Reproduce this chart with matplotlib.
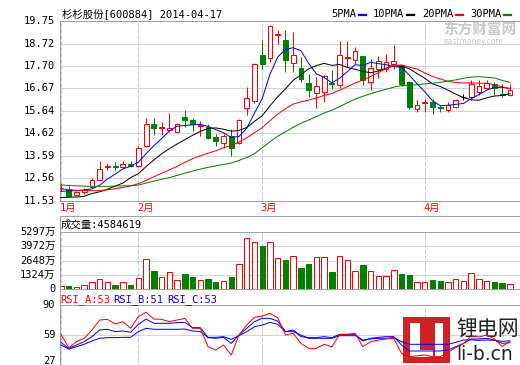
import matplotlib
matplotlib.use("Agg")
import matplotlib.pyplot as plt
from matplotlib.patches import Rectangle
from matplotlib.lines import Line2D
from matplotlib.transforms import blended_transform_factory

plt.rcParams['font.family'] = ['DejaVu Sans Mono', 'Noto Sans CJK SC']

# ------------------ DATA ------------------

stock_title = "杉杉股份[600884] 2014-04-17"
months = ['1月', '2月', '3月', '4月']
month_start = [0, 10, 26, 47]

opens = [12.10, 12.08, 11.80, 11.90, 12.13, 12.47, 13.08, 13.12, 13.05, 13.22,
         13.10, 14.02, 15.05, 14.84, 14.78, 14.69, 15.38, 15.24, 14.96, 14.92,
         14.43, 14.16, 14.51, 14.16, 15.78, 16.09, 18.19, 18.08, 19.12, 18.91,
         17.83, 17.62, 16.91, 16.45, 16.50, 16.92, 16.81, 18.08, 17.96, 18.14,
         16.96, 17.54, 17.57, 17.80, 17.73, 16.96, 15.74, 16.02, 16.04, 15.80,
         15.69, 15.81, 16.27, 16.27, 16.50, 16.70, 16.89, 16.40, 16.35]
highs = [12.33, 12.21, 11.97, 12.10, 12.55, 13.34, 13.24, 13.30, 13.34, 13.34,
         14.02, 15.30, 15.30, 15.12, 15.55, 15.10, 15.66, 15.30, 15.18, 15.05,
         14.59, 14.59, 14.82, 15.28, 16.73, 17.83, 18.88, 19.57, 19.37, 19.34,
         19.28, 18.11, 17.35, 17.19, 17.27, 17.50, 18.83, 18.83, 18.57, 18.14,
         18.03, 18.14, 18.26, 18.65, 17.75, 16.99, 16.12, 16.20, 16.20, 15.89,
         16.04, 16.20, 16.43, 17.04, 17.04, 17.04, 16.96, 16.89, 16.89]
lows = [11.98, 11.72, 11.78, 11.85, 12.10, 12.45, 12.95, 12.92, 12.98, 13.05,
        13.05, 14.00, 14.54, 14.55, 14.69, 14.65, 14.92, 14.71, 14.51, 14.36,
        14.05, 13.94, 13.59, 14.10, 15.43, 15.99, 17.58, 17.88, 18.69, 17.42,
        17.42, 16.96, 16.27, 15.78, 16.04, 16.66, 16.68, 17.65, 17.80, 16.81,
        16.61, 17.16, 17.42, 17.55, 16.78, 15.74, 15.58, 15.58, 15.51, 15.58,
        15.58, 15.78, 16.12, 16.12, 16.35, 16.66, 16.35, 16.27, 16.32]
closes = [12.12, 11.75, 11.93, 12.02, 12.49, 12.98, 13.12, 13.08, 13.21, 13.10,
          13.96, 15.05, 14.86, 14.88, 14.84, 15.05, 15.20, 15.03, 14.98, 14.40,
          14.28, 14.51, 13.92, 15.23, 16.24, 17.80, 17.80, 19.52, 19.18, 17.99,
          18.19, 17.12, 16.62, 16.76, 17.22, 16.86, 18.22, 18.13, 18.37, 17.04,
          17.60, 17.91, 17.88, 17.92, 16.89, 15.81, 15.92, 16.06, 15.81, 15.78,
          15.92, 16.12, 16.27, 16.89, 16.76, 16.91, 16.70, 16.36, 16.61]

# volume in 万 shares
volume = [331, 303, 239, 368, 644, 975, 644, 395, 644, 395,
          1012, 2759, 1683, 1104, 1591, 855, 1407, 1159, 855, 947,
          699, 763, 1159, 2327, 4690, 4322, 3982, 4322, 2851, 2694,
          3062, 1959, 2327, 2943, 2943, 1618, 3062, 2667, 1683, 2235,
          1683, 1195, 1195, 1747, 1407, 1315, 671, 671, 855, 763,
          671, 920, 763, 1471, 920, 763, 671, 579, 458.4619]

ma5 = [11.95, 11.97, 11.98, 12.02, 12.06, 12.23, 12.51, 12.74, 12.98, 13.10,
       13.29, 13.68, 14.04, 14.37, 14.72, 14.94, 14.97, 15.00, 15.02, 14.93,
       14.78, 14.64, 14.42, 14.47, 14.84, 15.54, 16.20, 17.32, 18.11, 18.46,
       18.54, 18.40, 17.82, 17.34, 17.18, 16.92, 17.14, 17.44, 17.76, 17.72,
       17.87, 17.81, 17.76, 17.67, 17.64, 17.28, 16.88, 16.52, 16.10, 15.88,
       15.90, 15.94, 15.98, 16.20, 16.39, 16.59, 16.71, 16.72, 16.67]
ma10 = [11.67, 11.68, 11.69, 11.72, 11.85, 11.93, 12.05, 12.19, 12.33, 12.58,
        12.76, 13.09, 13.39, 13.67, 13.91, 14.12, 14.32, 14.52, 14.70, 14.83,
        14.86, 14.80, 14.71, 14.74, 14.88, 15.16, 15.42, 15.87, 16.29, 16.65,
        17.04, 17.30, 17.57, 17.72, 17.82, 17.73, 17.77, 17.63, 17.55, 17.45,
        17.39, 17.47, 17.60, 17.72, 17.68, 17.58, 17.35, 17.14, 16.88, 16.76,
        16.59, 16.41, 16.25, 16.15, 16.13, 16.24, 16.32, 16.35, 16.43]
ma20 = [12.06, 12.03, 12.00, 11.99, 11.98, 11.98, 12.02, 12.07, 12.13, 12.20,
        12.30, 12.45, 12.62, 12.78, 12.93, 13.10, 13.28, 13.45, 13.58, 13.70,
        13.81, 13.95, 14.05, 14.21, 14.40, 14.64, 14.87, 15.19, 15.49, 15.74,
        15.95, 16.05, 16.14, 16.23, 16.35, 16.44, 16.59, 16.75, 16.92, 17.05,
        17.22, 17.39, 17.58, 17.72, 17.75, 17.65, 17.56, 17.38, 17.22, 17.11,
        16.99, 16.94, 16.92, 16.93, 16.91, 16.91, 16.83, 16.75, 16.66]
ma30 = [12.24, 12.22, 12.20, 12.19, 12.18, 12.18, 12.18, 12.19, 12.20, 12.21,
        12.24, 12.33, 12.42, 12.50, 12.58, 12.68, 12.78, 12.88, 12.97, 13.05,
        13.12, 13.18, 13.25, 13.37, 13.50, 13.68, 13.95, 14.22, 14.48, 14.68,
        14.89, 15.07, 15.22, 15.38, 15.54, 15.67, 15.84, 16.01, 16.18, 16.31,
        16.43, 16.53, 16.63, 16.73, 16.80, 16.82, 16.84, 16.88, 16.91, 16.95,
        17.01, 17.06, 17.14, 17.19, 17.21, 17.18, 17.15, 17.04, 16.95]

rsi_a = [59.7, 45.9, 52.1, 55.6, 64.2, 74.5, 75.2, 70.4, 72.8, 65.9,
         77.9, 82.4, 75.5, 75.2, 72.8, 74.5, 76.2, 65.9, 65.9, 46.9,
         43.5, 48.7, 38.3, 59.0, 69.3, 77.3, 78.6, 81.4, 76.9, 59.0,
         60.8, 50.4, 45.2, 45.2, 49.4, 46.9, 59.7, 59.7, 60.8, 46.9,
         52.1, 53.8, 54.9, 55.6, 40.1, 36.6, 37.6, 38.3, 36.6, 36.6,
         41.0, 46.0, 50.0, 58.0, 57.0, 59.0, 55.0, 47.0, 53.0]
rsi_b = [51.4, 45.2, 48.7, 52.1, 57.3, 64.2, 64.9, 62.5, 63.2, 61.8,
         70.0, 75.5, 71.1, 71.1, 71.1, 71.8, 72.1, 66.6, 66.6, 56.3,
         55.6, 56.6, 50.4, 59.0, 65.9, 72.8, 76.2, 76.2, 73.4, 62.5,
         64.2, 57.3, 56.3, 56.3, 57.3, 56.3, 59.7, 59.7, 59.7, 52.8,
         55.6, 56.6, 57.3, 57.3, 48.7, 42.5, 42.5, 42.5, 42.5, 42.5,
         43.5, 46.9, 50.4, 54.9, 54.9, 55.6, 53.8, 50.4, 51.0]
rsi_c = [48.7, 44.5, 46.9, 49.4, 52.8, 55.6, 56.3, 56.3, 56.6, 56.6,
         62.5, 65.9, 64.9, 64.9, 64.9, 64.9, 65.2, 63.2, 62.5, 56.6,
         56.6, 57.3, 54.5, 58.3, 62.5, 67.6, 69.3, 72.1, 70.0, 62.5,
         62.5, 59.0, 55.6, 55.6, 55.6, 55.6, 58.3, 58.3, 58.3, 53.8,
         54.9, 55.6, 55.6, 56.3, 52.1, 49.4, 49.4, 49.4, 49.4, 49.4,
         49.4, 51.4, 53.8, 54.0, 53.5, 53.8, 53.5, 52.5, 53.0]

price_ticks = [19.75, 18.72, 17.70, 16.67, 15.64, 14.62, 13.59, 12.56, 11.53]
vol_ticks = [0, 1324, 2648, 3972, 5297]
rsi_ticks = [27, 59, 90]

ma_names = ['5PMA', '10PMA', '20PMA', '30PMA']
ma_colors = ['#0000FF', '#000000', '#FF0000', '#008000']

# ------------------ LAYOUT HELPERS ------------------

W, H = 520, 365
fig = plt.figure(figsize=(W / 100, H / 100), dpi=100)

BORDER = '#A0A0A0'
GRID = '#D4D4D4'
DASH = '#C4C4C4'
RED = '#FF0000'
GREEN = '#008000'
PX = 0.72          # one pixel in points
FS = 7.5

n = len(closes)
xs = list(range(n))
XLIM = (-0.19, 59.24)


def px_axes(l, t, r, b):
    return fig.add_axes([l / W, 1 - b / H, (r - l) / W, (b - t) / H])


def fy(y):
    return 1 - y / H


def frame(ax):
    ax.set_xlim(*XLIM)
    ax.set_xticks([])
    ax.set_yticks([])
    for s in ax.spines.values():
        s.set_color(BORDER)
        s.set_linewidth(PX)


def month_lines(ax):
    for m in month_start:
        ax.axvline(m, color=DASH, lw=PX, ls=(0, (4, 2)), zorder=1)


def candle_color(i):
    if closes[i] > opens[i]:
        return RED
    if closes[i] < opens[i]:
        return GREEN
    return 'black'

# ------------------ PRICE PANEL ------------------

ax = px_axes(59.5, 21.3, 519.5, 200.5)
frame(ax)
ax.set_ylim(price_ticks[-1], price_ticks[0])
for v in price_ticks[1:-1]:
    ax.axhline(v, color=GRID, lw=PX, zorder=0)
month_lines(ax)

for i in xs:
    col = candle_color(i)
    top, bot = max(opens[i], closes[i]), min(opens[i], closes[i])
    face = 'white' if col == RED else col
    ax.vlines(i, top, highs[i], color=col, lw=PX, zorder=2)
    ax.vlines(i, lows[i], bot, color=col, lw=PX, zorder=2)
    ax.bar(i, max(top - bot, 0.004), bottom=bot, width=0.62,
           facecolor=face, edgecolor=col, lw=PX, zorder=3)

for ma, col in zip([ma5, ma10, ma20, ma30], ma_colors):
    ax.plot(xs, ma, color=col, lw=PX, zorder=4)

ytr = ax.get_yaxis_transform()
for v in price_ticks:
    ax.text(-0.009, v, f"{v:.2f}", transform=ytr, ha='right', va='center',
            fontsize=FS, clip_on=False)

mtr = blended_transform_factory(ax.transData, ax.transAxes)
for m, name in zip(month_start, months):
    ax.text(m - 0.2, -0.042, name, transform=mtr, ha='left', va='center',
            color=RED, fontsize=FS, clip_on=False)

# title and legend
fig.text(62 / W, fy(14), stock_title, ha='left', va='center', fontsize=FS)
leg_x = [331, 373, 422, 470]
for name, col, x0 in zip(ma_names, ma_colors, leg_x):
    fig.text(x0 / W, fy(14), name, ha='left', va='center', fontsize=FS)
    d0 = x0 + len(name) * 6 + 4
    fig.add_artist(Line2D([d0 / W, (d0 + 7) / W], [fy(14.5), fy(14.5)],
                          color=col, lw=1.6, transform=fig.transFigure))

# eastmoney watermark
fig.text(443 / W, fy(30), '东方财富网', ha='left', va='center', fontsize=10.5,
         color='#C8C8C8', fontweight='bold', family='Noto Sans CJK SC')
fig.text(444 / W, fy(41.5), 'eastmoney.com', ha='left', va='center',
         fontsize=5.5, color='#C8C8C8', family='DejaVu Sans')

# ------------------ VOLUME PANEL ------------------

axh = px_axes(59.5, 215.7, 519.5, 231.7)
frame(axh)
axh.text(0.002, 0.45, f"成交量:{volume[-1] * 1e4:.0f}", transform=axh.transAxes,
         ha='left', va='center', fontsize=FS)

axv = px_axes(59.5, 231.7, 519.5, 289.3)
frame(axv)
axv.set_ylim(vol_ticks[0], vol_ticks[-1])
for v in vol_ticks[1:-1]:
    axv.axhline(v, color=GRID, lw=PX, zorder=0)
month_lines(axv)
vcols = [GREEN if c == GREEN else RED for c in map(candle_color, xs)]
vfaces = [GREEN if c == GREEN else 'white' for c in vcols]
axv.bar(xs, volume, width=0.7, facecolor=vfaces, edgecolor=vcols, lw=PX, zorder=2)
vtr = axv.get_yaxis_transform()
for v in vol_ticks:
    axv.text(-0.009, v, f"{v}万" if v else "0", transform=vtr, ha='right',
             va='center', fontsize=FS, clip_on=False)

# ------------------ RSI PANEL ------------------

axrh = px_axes(59.5, 289.3, 519.5, 305)
frame(axrh)
for x0, lab, val, col in zip([60, 113, 167], ['RSI_A', 'RSI_B', 'RSI_C'],
                             [rsi_a[-1], rsi_b[-1], rsi_c[-1]],
                             [RED, '#0000FF', '#0000FF']):
    fig.text(x0 / W, fy(299.5), f"{lab}:{val:.0f}", ha='left', va='center',
             fontsize=FS, color=col)

axr = px_axes(59.5, 305, 519.5, 366)
frame(axr)
axr.set_ylim(rsi_ticks[0], rsi_ticks[-1])
axr.axhline(rsi_ticks[1], color=GRID, lw=PX, zorder=0)
month_lines(axr)
axr.plot(xs, rsi_c, color='#0000FF', lw=PX, zorder=3)
axr.plot(xs, rsi_b, color='#0000FF', lw=PX, zorder=3)
axr.plot(xs, rsi_a, color=RED, lw=PX, zorder=3)
rtr = axr.get_yaxis_transform()
for v in rsi_ticks:
    axr.text(-0.009, v, str(v), transform=rtr, ha='right',
             va='bottom' if v == rsi_ticks[0] else 'center',
             fontsize=FS, clip_on=False)

# li-b.cn logo, drawn under the RSI lines
ft = fig.transFigure
axr.add_patch(Rectangle((403 / W, fy(363.3)), 47 / W, 46.6 / H, transform=ft,
                        facecolor='#D02222', edgecolor='none', zorder=2, clip_on=False))
for (l, t, r, b) in [(410, 323.3, 420, 356.7), (410, 350, 433, 356.7),
                     (435, 323.3, 443.3, 356.7)]:
    axr.add_patch(Rectangle((l / W, fy(b)), (r - l) / W, (b - t) / H, transform=ft,
                            facecolor='white', edgecolor='none', zorder=2.1,
                            clip_on=False))
axr.text(456 / W, fy(329), '锂电网', transform=ft, ha='left', va='center',
         fontsize=15, color='#222222', family='Noto Sans CJK SC', zorder=2)
axr.text(456 / W, fy(354), 'li-b.cn', transform=ft, ha='left', va='center',
         fontsize=13.5, color='#222222', family='DejaVu Sans', zorder=2)

fig.savefig("out.png", dpi=100)
